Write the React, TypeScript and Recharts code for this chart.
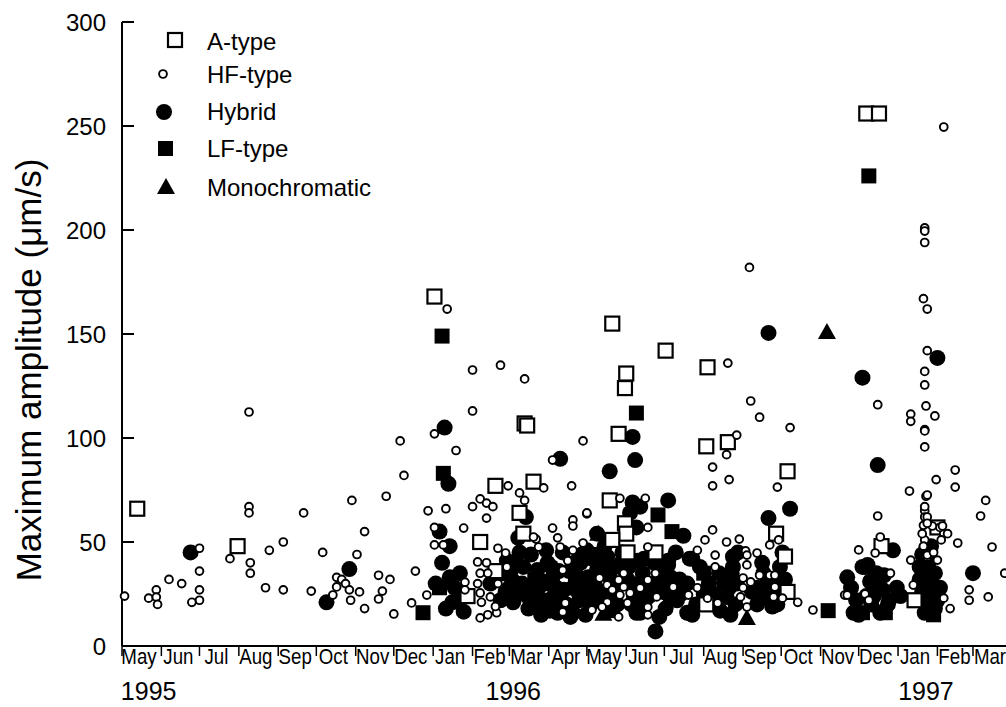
import { ScatterChart, Scatter, XAxis, YAxis, Legend } from 'recharts';

// x = days since 1 May 1995, y = maximum amplitude (µm/s)
const aType: [number, number][] = [
  [12, 66], [91, 48], [246, 168], [386, 155], [428, 142], [397, 131], [396, 124], [391, 102],
  [317, 107], [319, 106], [294, 77], [324, 79], [313, 64], [282, 50], [316, 54], [384, 70],
  [396, 59], [397, 54], [386, 51], [398, 45], [420, 45], [272, 24], [294, 36], [460, 20],
  [460, 96], [477, 98], [524, 84], [515, 54], [522, 43], [524, 26], [624, 22], [586, 256],
  [596, 256], [461, 134], [642, 57], [598, 48],
];

const hfType: [number, number][] = [
  [2, 24], [21, 23], [27, 27], [27, 23.5], [28, 20], [37, 32], [47, 30], [61, 47], [61, 36],
  [61, 27], [61, 22], [55, 21], [85, 42], [100, 112.5], [100, 67], [100, 64], [101, 40],
  [101, 35], [113, 28], [116, 46], [127, 50], [127, 27], [143, 64], [149, 26.4], [158, 45],
  [169, 33], [169, 28.4], [173, 32], [176, 30], [179, 27], [180, 22], [166, 24.5], [187, 26],
  [191, 18], [185, 44], [191, 55], [181, 70], [208, 72], [202, 34], [205, 26.4], [202, 22.6],
  [211, 32], [214, 15.4], [219, 98.6], [222, 82],
  [231, 36], [240, 24.5], [228, 20.7], [241, 65], [255, 66], [246, 102], [263, 94], [276, 113],
  [246, 57], [246, 48.6], [253, 48.6], [269, 56.7], [276, 67], [282, 70.7], [287, 68.7],
  [292, 67], [287, 61.5], [304, 77], [313, 73.6], [317, 70], [332, 76], [354, 77], [363, 98.6],
  [339, 89.4], [339, 56.7], [355, 60.6], [355, 57.7], [366, 63.5], [343, 52], [345, 47.6],
  [326, 51.4], [328, 47.6], [324, 52.4], [296, 47], [280, 40.4], [287, 40], [282, 35], [288, 35],
  [280, 30], [270, 30.7], [270, 27], [282, 25.5], [283, 21], [290, 23.6], [282, 13.5], [288, 15],
  [295, 16], [294, 19], [296, 30], [302, 44.7], [303, 38],
  [256, 162], [276, 132.7], [298, 135], [317, 128.4],
  [366, 64], [363, 49.5], [355, 46], [351, 41], [347, 36.5], [392, 71], [412, 71], [414, 57],
  [414, 47.6], [453, 46], [459, 51], [376, 32.7], [382, 29.3], [386, 27], [391, 31.7], [395, 35],
  [395, 28.4], [392, 24.5], [400, 25.5], [398, 20.7], [408, 27.9], [414, 31.7], [420, 35],
  [421, 23.6], [414, 18.7], [414, 15], [382, 21], [378, 18.75], [391, 14], [370, 17.3],
  [349, 20.7], [347, 16.4], [453, 28], [461, 23], [446, 24.5], [434, 28.4],
  [476, 92], [465, 86], [465, 77], [478, 80], [516, 76.4], [465, 55.8], [476, 50], [486, 51.4],
  [491, 45.7], [492, 43.7], [500, 44.7], [467, 43.7], [467, 38], [492, 39], [502, 34], [510, 34],
  [514, 34], [489, 32.7], [495, 30.8], [489, 28], [514, 28.4], [513, 23.6], [520, 23], [532, 21],
  [544, 17.3], [469, 20.7], [569, 24.5], [510, 48.6], [517, 51], [487, 23.6], [492, 18.75],
  [647, 249.5], [632, 201], [632, 199.5], [632, 194], [494, 182], [631, 167], [634, 162],
  [634, 142], [477, 136], [632, 132], [632, 125.5], [495, 117.8], [595, 116], [633, 115.4],
  [502, 110], [526, 105], [484, 101.4], [621, 111.5], [621, 108], [640, 110.6], [632, 104],
  [632, 95.7], [656, 84.6], [656, 76.4], [641, 80], [620, 74.5], [595, 62.5], [633, 72],
  [680, 70], [676, 62.5], [685, 47.6], [695, 35], [658, 49.5], [667, 27], [667, 22], [682, 23.6],
  [652, 18], [647, 54], [644, 57], [638, 57.7], [597, 52.4], [593, 44.7], [580, 46.2],
  [621, 41.3], [605, 35], [623, 29.3], [585, 25], [588, 22], [571, 24.5], [647, 23], [632, 65],
  [632, 62], [631, 58], [632, 51], [631, 47.6], [634, 42.8], [642, 41.3],
  [632, 103.4], [634, 72.6], [632, 67], [634, 62], [634, 59], [646, 57.7], [650, 54], [645, 51],
  [630, 54], [631, 48], [634, 43.7], [639, 45],
];

const hybrid: [number, number][] = [
  [54, 45], [161, 21], [179, 37],
  [254, 105], [257, 78], [250, 55], [258, 48], [258, 33], [260, 21], [269, 16.5],
  [252, 40], [262, 28], [265, 22], [255, 18], [247, 30], [266, 35],
  [345, 90], [384, 84], [402, 100.5], [404, 89.4], [430, 70], [442, 53], [449, 42], [430, 39],
  [402, 69], [405, 57], [374, 54], [445, 16], [420, 7], [405, 16], [343, 16], [355, 16],
  [312, 52], [313, 45], [307, 32], [308, 21], [319, 24], [327, 36.5], [332, 21], [335, 40],
  [302, 26], [324, 19], [339, 33], [337, 17], [353, 14], [347, 45], [361, 40], [374, 36.5],
  [355, 28], [368, 24], [366, 46], [384, 33], [382, 43], [398, 32], [406, 41], [408, 16],
  [423, 14], [437, 22], [439, 32], [400, 64], [408, 67], [430, 41], [298, 22], [303, 41],
  [290, 30], [318, 62],
  [300, 35], [305, 28], [310, 40], [315, 30], [320, 18], [322, 44], [328, 28], [330, 15],
  [336, 30], [340, 24], [344, 36], [348, 27], [350, 20], [358, 34], [360, 22], [363, 30],
  [365, 15], [370, 42], [372, 30], [378, 26], [380, 48], [388, 38], [390, 20], [394, 45],
  [396, 36], [400, 30], [403, 24], [410, 35], [412, 22], [418, 30], [426, 26], [428, 18],
  [432, 33], [436, 45], [440, 25], [445, 30], [452, 20],
  [306, 36], [311, 25], [316, 38], [321, 28], [326, 22], [331, 31], [334, 46], [338, 38],
  [342, 28], [346, 22], [352, 36], [356, 40], [359, 26], [362, 44], [367, 33], [369, 20],
  [373, 22], [377, 40], [381, 36], [385, 24], [389, 30], [393, 40], [399, 38], [401, 20],
  [407, 30], [411, 42], [415, 24], [419, 40], [424, 36], [427, 30], [431, 24],
  [526, 66], [509, 61.5], [518, 38], [506, 23.5], [512, 19], [449, 15], [481, 38], [476, 23.5],
  [471, 17], [485, 45], [447, 42], [481, 43], [509, 150.5],
  [474, 30], [479, 15], [484, 30], [496, 26], [500, 20], [505, 35], [515, 26], [520, 45], [522, 32],
  [455, 38], [458, 25], [462, 30], [466, 25], [470, 35], [478, 28], [483, 20], [480, 35],
  [500, 28], [504, 40], [508, 30], [511, 24], [516, 20], [519, 30],
  [571, 33], [583, 38], [589, 31], [576, 16], [597, 16], [599, 27], [610, 28], [607, 46],
  [587, 39], [583, 129], [642, 138.5], [595, 87], [585, 38], [580, 15], [635, 40], [638, 30],
  [642, 22], [634, 22], [632, 16], [670, 35],
  [574, 28], [578, 22], [592, 24], [594, 35], [603, 20], [613, 24], [628, 32], [630, 26],
  [636, 35], [640, 18], [644, 28],
  [586, 24], [590, 20], [600, 34], [604, 22], [593, 30],
  [628, 38], [630, 44], [633, 28], [636, 25], [640, 35], [637, 48],
];

const lfType: [number, number][] = [
  [252, 149], [253, 83], [405, 112], [250, 28], [237, 16], [422, 63], [458, 35], [433, 55],
  [556, 17], [588, 226], [639, 15], [583, 16], [601, 16], [325, 32], [357, 34], [376, 44],
  [408, 27], [386, 17], [337, 22],
];

const mono: [number, number][] = [
  [555, 151], [379, 15.5], [492, 13.5], [375, 54],
];

const monthStarts = [0, 31, 61, 92, 123, 153, 184, 214, 245, 276, 305, 336, 366, 397, 427, 458, 489, 519, 550, 580, 611, 642, 670];
const monthNames = ['May', 'Jun', 'Jul', 'Aug', 'Sep', 'Oct', 'Nov', 'Dec', 'Jan', 'Feb', 'Mar', 'Apr', 'May', 'Jun', 'Jul', 'Aug', 'Sep', 'Oct', 'Nov', 'Dec', 'Jan', 'Feb', 'Mar'];
const yearDays = [21, 308, 633];
const yearNames = ['1995', '1996', '1997'];
const yTicks = [0, 50, 100, 150, 200, 250, 300];

const FONT = '"Liberation Sans", Arial, Helvetica, sans-serif';

const toPts = (arr: [number, number][]) => arr.map(([day, amp]) => ({ day, amp }));

const OpenSquare = ({ cx, cy }: any) => (
  <rect x={cx - 7} y={cy - 7} width={14} height={14} fill="#fff" stroke="#000" strokeWidth={2.2} />
);
const SmallCircle = ({ cx, cy }: any) => (
  <circle cx={cx} cy={cy} r={3.9} fill="#fff" stroke="#000" strokeWidth={1.9} />
);
const BigDot = ({ cx, cy }: any) => <circle cx={cx} cy={cy} r={8} fill="#000" />;
const FilledSquare = ({ cx, cy }: any) => (
  <rect x={cx - 7.5} y={cy - 7.5} width={15} height={15} fill="#000" />
);
const Triangle = ({ cx, cy }: any) => (
  <polygon points={`${cx},${cy - 9} ${cx + 9},${cy + 7} ${cx - 9},${cy + 7}`} fill="#000" />
);

const MonthTick = ({ x, y, payload }: any) => {
  const i = monthStarts.indexOf(payload.value);
  return (
    <text
      transform={`translate(${x + 17},${y + 8}) scale(0.85,1)`}
      textAnchor="middle"
      fontSize={22}
      fontFamily={FONT}
      fill="#000"
    >
      {monthNames[i]}
    </text>
  );
};

const YearTick = ({ x, y, payload }: any) => {
  const i = yearDays.indexOf(payload.value);
  return (
    <text x={x} y={y + 28} textAnchor="middle" fontSize={25} fontFamily={FONT} fill="#000">
      {yearNames[i]}
    </text>
  );
};

const AmpTick = ({ x, y, payload }: any) => (
  <g>
    <line x1={x} x2={x + 12} y1={y} y2={y} stroke="#000" strokeWidth={2} />
    <text x={x - 16} y={y} dy="0.36em" textAnchor="end" fontSize={24} fontFamily={FONT} fill="#000">
      {payload.value}
    </text>
  </g>
);

const YTitle = () => (
  <text
    transform="translate(41,370) rotate(-90)"
    textAnchor="middle"
    fontSize={35}
    fontFamily={FONT}
    fill="#000"
  >
    Maximum amplitude (μm/s)
  </text>
);

const LegendBox = () => (
  <svg width={400} height={210} style={{ display: 'block' }}>
    <rect x={168} y={33} width={14} height={14} fill="#fff" stroke="#000" strokeWidth={2.2} />
    <circle cx={163} cy={74} r={3.9} fill="#fff" stroke="#000" strokeWidth={1.9} />
    <circle cx={164} cy={112} r={8} fill="#000" />
    <rect x={158} y={141} width={15} height={15} fill="#000" />
    <polygon points="166,178 175,194 157,194" fill="#000" />
    <g fontSize={24} fontFamily={FONT} fill="#000">
      <text x={207} y={50}>A-type</text>
      <text x={207} y={83}>HF-type</text>
      <text x={207} y={120}>Hybrid</text>
      <text x={207} y={157}>LF-type</text>
      <text x={207} y={196}>Monochromatic</text>
    </g>
  </svg>
);

export default function App() {
  return (
    <div style={{ position: 'absolute', left: 0, top: 0, background: '#fff' }}>
      <ScatterChart width={1006} height={707} margin={{ top: 22, right: 0, bottom: 0, left: 0 }}>
        <XAxis
          type="number"
          dataKey="day"
          domain={[0, 696]}
          ticks={monthStarts}
          interval={0}
          height={26}
          tickSize={10}
          tickMargin={0}
          tick={<MonthTick />}
          axisLine={{ stroke: '#000', strokeWidth: 2 }}
          tickLine={{ stroke: '#000', strokeWidth: 1.5 }}
        />
        <XAxis
          xAxisId="year"
          type="number"
          dataKey="day"
          domain={[0, 696]}
          ticks={yearDays}
          interval={0}
          height={35}
          tickSize={0}
          tickMargin={0}
          tick={<YearTick />}
          axisLine={false}
          tickLine={false}
        />
        <YAxis
          type="number"
          dataKey="amp"
          domain={[0, 300]}
          ticks={yTicks}
          interval={0}
          width={122}
          tickSize={0}
          tickMargin={0}
          tick={<AmpTick />}
          tickLine={false}
          axisLine={{ stroke: '#000', strokeWidth: 2 }}
          label={<YTitle />}
        />
        <Legend
          layout="vertical"
          align="center"
          verticalAlign="middle"
          content={<LegendBox />}
          wrapperStyle={{ left: 0, top: 0, width: 400, height: 210 }}
        />
        <Scatter name="Hybrid" data={toPts(hybrid)} shape={<BigDot />} isAnimationActive={false} />
        <Scatter name="LF-type" data={toPts(lfType)} shape={<FilledSquare />} isAnimationActive={false} />
        <Scatter
          name="Monochromatic"
          xAxisId="year"
          data={toPts(mono)}
          shape={<Triangle />}
          isAnimationActive={false}
        />
        <Scatter name="A-type" data={toPts(aType)} shape={<OpenSquare />} isAnimationActive={false} />
        <Scatter name="HF-type" data={toPts(hfType)} shape={<SmallCircle />} isAnimationActive={false} />
      </ScatterChart>
    </div>
  );
}
